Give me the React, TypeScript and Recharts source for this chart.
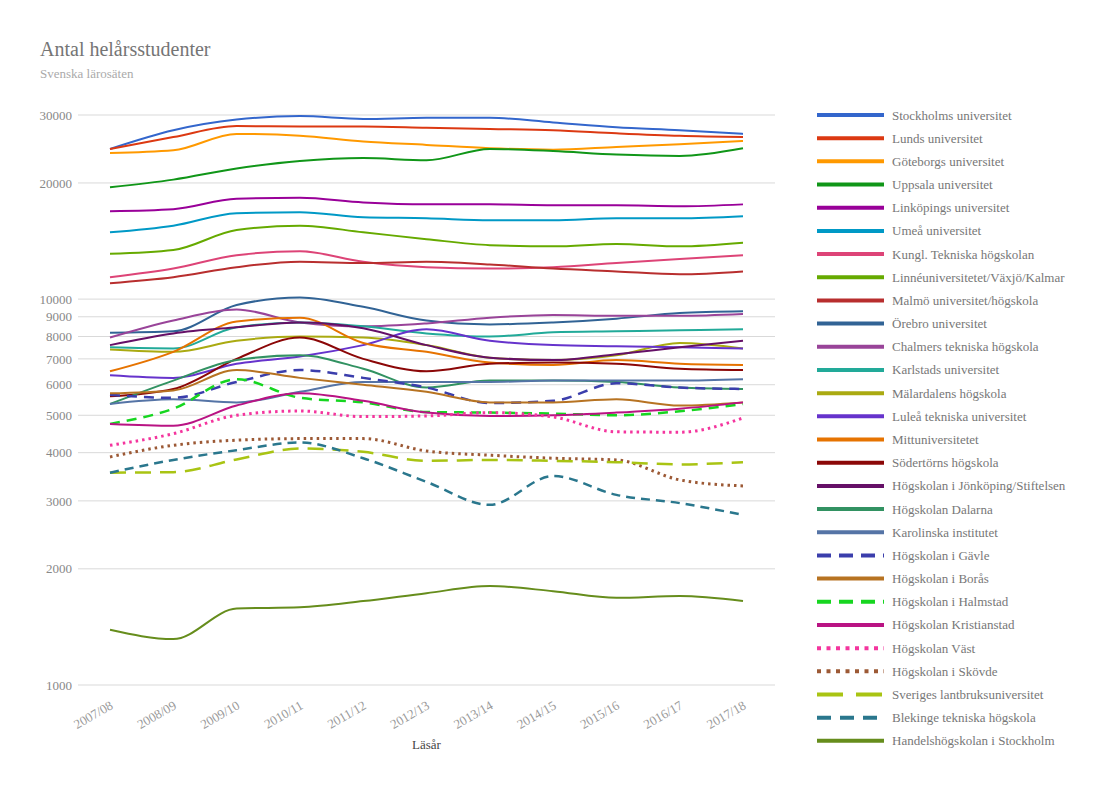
import { LineChart, Line, XAxis, YAxis, CartesianGrid, Legend } from 'recharts';

const years = ['2007/08', '2008/09', '2009/10', '2010/11', '2011/12', '2012/13', '2013/14', '2014/15', '2015/16', '2016/17', '2017/18'];

const stockholm = [24500, 27400, 29200, 29800, 29300, 29500, 29500, 28700, 27900, 27400, 26800];
const lund = [24500, 26300, 28100, 28000, 28000, 27800, 27600, 27400, 26900, 26500, 26300];
const goteborg = [23900, 24300, 26800, 26500, 25600, 25100, 24600, 24400, 24800, 25200, 25700];
const uppsala = [19500, 20400, 21800, 22800, 23200, 22900, 24500, 24200, 23700, 23500, 24600];
const linkoping = [16900, 17100, 18200, 18300, 17800, 17600, 17600, 17500, 17500, 17400, 17600];
const umea = [14900, 15500, 16700, 16800, 16300, 16200, 16000, 16000, 16200, 16200, 16400];
const kth = [11400, 12000, 13000, 13300, 12500, 12100, 12000, 12100, 12400, 12700, 13000];
const linne = [13100, 13400, 15100, 15500, 14900, 14300, 13800, 13700, 13900, 13700, 14000];
const malmo = [11000, 11400, 12100, 12500, 12400, 12500, 12300, 12000, 11800, 11600, 11800];
const orebro = [8180, 8250, 9650, 10100, 9550, 8800, 8600, 8700, 8900, 9200, 9300];
const chalmers = [7950, 8800, 9400, 8700, 8500, 8650, 8950, 9100, 9050, 9050, 9150];
const karlstad = [7500, 7450, 8450, 8700, 8500, 8150, 8000, 8200, 8250, 8300, 8350];
const malardalen = [7400, 7300, 7800, 8000, 7950, 7600, 7050, 6950, 7150, 7700, 7450];
const lulea = [6350, 6250, 6800, 7100, 7600, 8350, 7800, 7600, 7550, 7500, 7450];
const mittuniv = [6500, 7300, 8750, 8950, 7700, 7300, 6850, 6750, 6950, 6800, 6750];
const sodertorn = [5600, 5850, 7000, 7950, 7000, 6500, 6800, 6850, 6800, 6600, 6550];
const jonkoping = [7600, 8150, 8450, 8700, 8400, 7600, 7050, 6950, 7200, 7500, 7800];
const dalarna = [5350, 6150, 6950, 7150, 6600, 5900, 6150, 6150, 6100, 5900, 5850];
const karolinska = [5350, 5500, 5400, 5750, 6100, 6100, 6100, 6150, 6150, 6150, 6200];
const gavle = [5650, 5550, 6100, 6550, 6250, 5900, 5380, 5450, 6050, 5900, 5850];
const boras = [5700, 5800, 6550, 6250, 6000, 5750, 5400, 5400, 5500, 5300, 5400];
const halmstad = [4750, 5200, 6200, 5550, 5400, 5100, 5080, 5050, 5000, 5120, 5350];
const kristianstad = [4750, 4700, 5300, 5700, 5450, 5080, 4980, 5000, 5080, 5200, 5400];
const vast = [4180, 4480, 5000, 5130, 4960, 4980, 5080, 4950, 4530, 4520, 4920];
const skovde = [3900, 4180, 4310, 4350, 4350, 4040, 3940, 3870, 3830, 3400, 3280];
const slu = [3550, 3560, 3840, 4100, 4020, 3810, 3830, 3810, 3780, 3730, 3780];
const blekinge = [3550, 3830, 4060, 4250, 3870, 3360, 2930, 3480, 3110, 2960, 2760];
const handels = [1390, 1315, 1578, 1590, 1650, 1730, 1805, 1750, 1682, 1700, 1650];

const seriesNames = [
  'Stockholms universitet',
  'Lunds universitet',
  'Göteborgs universitet',
  'Uppsala universitet',
  'Linköpings universitet',
  'Umeå universitet',
  'Kungl. Tekniska högskolan',
  'Linnéuniversitetet/Växjö/Kalmar',
  'Malmö universitet/högskola',
  'Örebro universitet',
  'Chalmers tekniska högskola',
  'Karlstads universitet',
  'Mälardalens högskola',
  'Luleå tekniska universitet',
  'Mittuniversitetet',
  'Södertörns högskola',
  'Högskolan i Jönköping/Stiftelsen',
  'Högskolan Dalarna',
  'Karolinska institutet',
  'Högskolan i Gävle',
  'Högskolan i Borås',
  'Högskolan i Halmstad',
  'Högskolan Kristianstad',
  'Högskolan Väst',
  'Högskolan i Skövde',
  'Sveriges lantbruksuniversitet',
  'Blekinge tekniska högskola',
  'Handelshögskolan i Stockholm',
];

const seriesValues = [
  stockholm, lund, goteborg, uppsala, linkoping, umea, kth, linne, malmo, orebro,
  chalmers, karlstad, malardalen, lulea, mittuniv, sodertorn, jonkoping, dalarna,
  karolinska, gavle, boras, halmstad, kristianstad, vast, skovde, slu, blekinge, handels,
];

const yTicks = [1000, 2000, 3000, 4000, 5000, 6000, 7000, 8000, 9000, 10000, 20000, 30000];

const palette = [
  '#3366cc', '#dc3912', '#ff9900', '#109618', '#990099', '#0099c6', '#dd4477',
  '#66aa00', '#b82e2e', '#316395', '#994499', '#22aa99', '#aaaa11', '#6633cc',
  '#e67300', '#8b0707', '#651067', '#329262', '#5574a6', '#3b3eac', '#b77322',
  '#16d620', '#b91383', '#f4359e', '#9c5935', '#a9c413', '#2a778d', '#668d1c',
];

// line dash styles (chart / legend) for the non-solid series
const dashed: Record<number, { line: string; legend: string; width: number }> = {
  19: { line: '10 7', legend: '14 8', width: 2.5 },
  21: { line: '10 7', legend: '14 8', width: 2.5 },
  23: { line: '2.5 4', legend: '4 5.5', width: 3 },
  24: { line: '2.5 4', legend: '4 5.5', width: 3 },
  25: { line: '16 9', legend: '26 13', width: 2.5 },
  26: { line: '9 6', legend: '14 9', width: 2.5 },
};

const chartData = years.map((year, i) => {
  const row: Record<string, string | number> = { year };
  seriesValues.forEach((vals, s) => {
    row['s' + s] = vals[i];
  });
  return row;
});

const FONT = 'Liberation Serif, DejaVu Serif, serif';

function YearTick(props: any) {
  const { x, y, payload } = props;
  const ax = x + 4;
  const ay = y + 15;
  return (
    <text
      x={ax}
      y={ay}
      transform={`rotate(-30 ${ax} ${ay})`}
      textAnchor="end"
      fontSize={13}
      fill="#999"
      fontFamily={FONT}
    >
      {payload.value}
    </text>
  );
}

function LegendList() {
  return (
    <svg width={285} height={660}>
      {seriesNames.map((name, i) => {
        const cy = 11 + i * 23.18;
        const st = dashed[i];
        return (
          <g key={name}>
            <line
              x1={5}
              x2={72}
              y1={cy}
              y2={cy}
              stroke={palette[i]}
              strokeWidth={4}
              strokeDasharray={st ? st.legend : undefined}
            />
            <text x={80} y={cy + 4.5} fontSize={13} fill="#777" fontFamily={FONT}>
              {name}
            </text>
          </g>
        );
      })}
    </svg>
  );
}

export default function App() {
  return (
    <div style={{ position: 'absolute', left: 0, top: 0, width: 1100, height: 789, background: '#fff', fontFamily: FONT }}>
      <div style={{ position: 'absolute', left: 40, top: 38, fontSize: 20, color: '#757575', whiteSpace: 'nowrap' }}>
        Antal helårsstudenter
      </div>
      <div style={{ position: 'absolute', left: 40, top: 66, fontSize: 13, color: '#aaa', whiteSpace: 'nowrap' }}>
        Svenska lärosäten
      </div>
      <LineChart
        width={1100}
        height={789}
        data={chartData}
        margin={{ top: 115, right: 325, bottom: 40, left: 18 }}
        style={{ fontFamily: FONT }}
      >
        <CartesianGrid vertical={false} stroke="#d9d9d9" />
        <XAxis
          dataKey="year"
          interval={0}
          padding={{ left: 32, right: 32 }}
          tickLine={false}
          axisLine={false}
          height={64}
          tick={<YearTick />}
          label={{ value: 'Läsår', position: 'insideBottom', offset: 0, fill: '#444', fontSize: 13, fontFamily: FONT }}
        />
        <YAxis
          scale="log"
          type="number"
          domain={[1000, 30000]}
          ticks={yTicks}
          interval={0}
          allowDataOverflow
          width={60}
          tickLine={false}
          axisLine={false}
          tickSize={4}
          tickMargin={2}
          tick={{ fill: '#888', fontSize: 13, fontFamily: FONT }}
        />
        <Legend
          layout="vertical"
          align="center"
          verticalAlign="middle"
          content={<LegendList />}
          wrapperStyle={{ left: 812, top: 104, width: 285, height: 660 }}
        />
        {seriesNames.map((name, s) => {
          const st = dashed[s];
          return (
            <Line
              key={name}
              name={name}
              dataKey={'s' + s}
              type="monotone"
              stroke={palette[s]}
              strokeWidth={st ? st.width : 2}
              strokeDasharray={st ? st.line : undefined}
              dot={false}
              activeDot={false}
              isAnimationActive={false}
            />
          );
        })}
      </LineChart>
    </div>
  );
}
